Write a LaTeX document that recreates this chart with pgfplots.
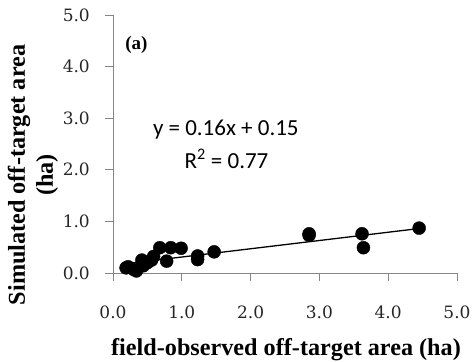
\documentclass[border=0pt]{standalone}
\usepackage{fontspec}
\setmainfont{Carlito}
\newfontfamily\timesfont{Liberation Serif}
\newfontfamily\tickfont{DejaVu Serif}
\usepackage{pgfplots}
\pgfplotsset{compat=1.18}
\definecolor{axgray}{RGB}{134,134,134}
\begin{document}
\begin{tikzpicture}
\begin{axis}[
  scale only axis, width=344bp, height=258bp,
  xmin=0, xmax=5, ymin=0, ymax=5,
  axis x line*=bottom, axis y line*=left,
  axis line style={axgray, line width=0.8bp},
  every tick/.style={axgray, line width=0.8bp},
  tick align=outside, major tick length=8bp,
  xtick={0,1,2,3,4,5}, ytick={0,1,2,3,4,5},
  /pgf/number format/assume math mode=true,
  /pgf/number format/.cd, fixed, fixed zerofill, precision=1, /pgfplots/.cd,
  ticklabel style={font=\tickfont\fontsize{17bp}{20bp}\selectfont, text=black!85},
  xticklabel style={anchor=north, inner sep=0pt, yshift=-24.5bp},
  yticklabel style={anchor=east, inner sep=0pt, xshift=-15bp},
  clip=false,
]
\addplot[only marks, mark=*, mark size=6.5bp, black] coordinates {
(0.19,0.10) (0.22,0.12) (0.30,0.07) (0.34,0.04) (0.42,0.25) (0.44,0.14)
(0.50,0.20) (0.56,0.25) (0.59,0.32) (0.68,0.49) (0.78,0.23) (0.84,0.49)
(0.99,0.48) (1.23,0.33) (1.23,0.26) (1.47,0.41) (2.85,0.76) (2.85,0.73)
(3.62,0.76) (3.64,0.49) (4.45,0.87)
};
\addplot[black, line width=1.3bp] coordinates {(0.19,0.180) (4.45,0.862)};
\node[font=\fontsize{23bp}{26bp}\selectfont, inner sep=0pt] at (axis cs:1.64,2.77) {y = 0.16x + 0.15};
\node[font=\fontsize{23bp}{26bp}\selectfont, inner sep=0pt] at (axis cs:1.65,2.21) {R\textsuperscript{2} = 0.77};
\node[font=\timesfont\bfseries\fontsize{19bp}{22bp}\selectfont, inner sep=0pt] at (axis cs:0.34,4.42) {(a)};
\node[font=\timesfont\bfseries\fontsize{24.2bp}{28bp}\selectfont, inner sep=0pt, anchor=base] at ([xshift=1bp,yshift=-82bp]rel axis cs:0.5,0) {field-observed off-target area (ha)};
\node[font=\timesfont\bfseries\fontsize{24.2bp}{28bp}\selectfont, inner sep=0pt, anchor=base, rotate=90] at ([xshift=-88bp]rel axis cs:0,0.38) {Simulated off-target area};
\node[font=\timesfont\bfseries\fontsize{24.2bp}{28bp}\selectfont, inner sep=0pt, anchor=base, rotate=90] at ([xshift=-60bp]rel axis cs:0,0.38) {(ha)};
\coordinate (O) at (rel axis cs:0,0);
\end{axis}
\pgfresetboundingbox
\path[use as bounding box] (O) ++(-113bp,-89bp) rectangle ++(472bp,362bp);
\end{tikzpicture}
\end{document}
